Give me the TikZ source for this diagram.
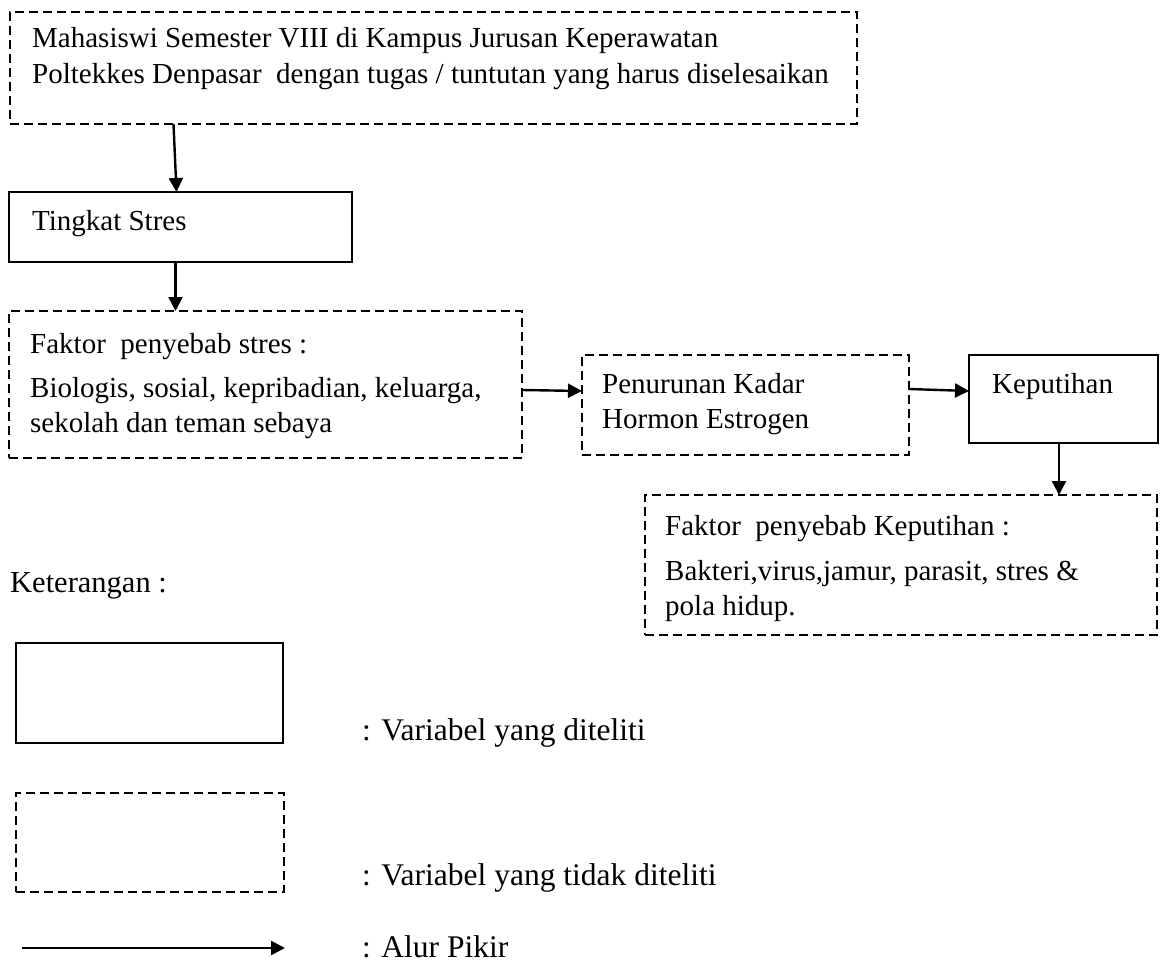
\documentclass[tikz,border=0pt]{standalone}
\usepackage{fontspec}
\setmainfont{Liberation Serif}
\usetikzlibrary{arrows.meta}
\begin{document}
\begin{tikzpicture}[x=1pt,y=-1pt,
  solidbox/.style={draw, line width=1.9pt, anchor=north west, inner sep=0pt, outer sep=0pt},
  dashbox/.style={draw, line width=1.9pt, dash pattern=on 9pt off 5pt, anchor=north west, inner sep=0pt, outer sep=0pt},
  txt/.style={font=\fontsize{29}{35}\selectfont, anchor=base west, inner sep=0pt},
  legtxt/.style={font=\fontsize{31.5}{38}\selectfont, anchor=base west, inner sep=0pt},
  arr/.style={-{Triangle[length=14pt,width=14pt]}, line width=2.4pt}]
\useasboundingbox (0,0) rectangle (1160,964);

% boxes
\node[dashbox, minimum width=847pt, minimum height=112pt] (b1) at (10,12) {};
\node[solidbox, minimum width=343pt, minimum height=70pt] (b2) at (9,192) {};
\node[dashbox, minimum width=513pt, minimum height=147pt] (b3) at (9,311) {};
\node[dashbox, minimum width=327pt, minimum height=100pt] (b4) at (582,355) {};
\node[solidbox, minimum width=189pt, minimum height=88pt] (b5) at (969,355) {};
\node[dashbox, minimum width=512pt, minimum height=140pt] (b6) at (645,495) {};
\node[solidbox, minimum width=267pt, minimum height=100pt] (b7) at (16,643) {};
\node[dashbox, minimum width=268pt, minimum height=99pt] (b8) at (16,793) {};

% texts
\node[txt] (t1a) at (32,47) {Mahasiswi Semester VIII di Kampus Jurusan Keperawatan};
\node[txt] (t1b) at (32,83) {Poltekkes Denpasar\ \ dengan tugas / tuntutan yang harus diselesaikan};
\node[txt] (t2) at (32,230) {Tingkat Stres};
\node[txt] (t3a) at (30,353) {Faktor\ \ penyebab stres :};
\node[txt] (t3b) at (30,397) {Biologis, sosial, kepribadian, keluarga,};
\node[txt] (t3c) at (30,432) {sekolah dan teman sebaya};
\node[txt] (t4a) at (602,393) {Penurunan Kadar};
\node[txt] (t4b) at (602,428) {Hormon Estrogen};
\node[txt] (t5) at (992,393) {Keputihan};
\node[txt] (t6a) at (665,535) {Faktor\ \ penyebab Keputihan :};
\node[txt] (t6b) at (665,580) {Bakteri,virus,jamur, parasit, stres \&};
\node[txt] (t6c) at (665,615) {pola hidup.};
\node[txt, font=\fontsize{30.5}{36}\selectfont] (ket) at (10,592) {Keterangan :};
\node[legtxt] (l1) at (362,740) {: Variabel yang diteliti};
\node[legtxt] (l2) at (362,885) {: Variabel yang tidak diteliti};
\node[legtxt] (l3) at (362,957) {: Alur Pikir};

% connectors
\draw[arr] ([xshift=-7pt]b2.north |- b1.south) -- ([xshift=-4pt]b2.north);
\draw[arr] ([xshift=-5pt]b2.south) -- ([xshift=-5pt]b2.south |- b3.north);
\draw[arr] ([yshift=15pt]b3.east |- b4.west) -- ([yshift=14pt]b4.west);
\draw[arr] ([yshift=16pt]b4.east) -- ([yshift=14pt]b4.east -| b5.west);
\draw[arr] ([xshift=-4.5pt]b5.south) -- ([xshift=-4.5pt]b5.south |- b6.north);
\coordinate (la) at (22,948);
\coordinate (lb) at (285,948);
\draw[arr] (la) -- (lb);
\end{tikzpicture}
\end{document}
